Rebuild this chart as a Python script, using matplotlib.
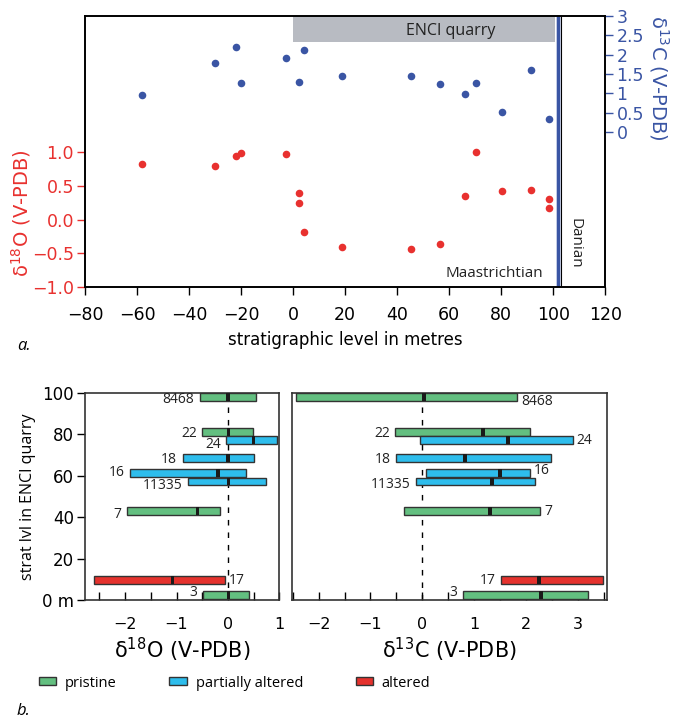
import matplotlib

matplotlib.use("Agg")
import matplotlib.pyplot as plt
from matplotlib.patches import Patch

# ---- panel a: isotope values vs stratigraphic level -------------------------
c13_level = [-58, -29.9, -21.9, -19.9, -2.8, 4.1, 2.2, 18.6, 45.3, 56.3, 66.2,
             70.3, 80.3, 91.3, 98.2]
c13_value = [0.96, 1.79, 2.21, 1.27, 1.92, 2.11, 1.30, 1.45, 1.44, 1.24, 0.99,
             1.28, 0.53, 1.60, 0.33]
o18_level = [-58, -29.9, -21.9, -19.9, -2.8, 2.2, 2.2, 4.1, 18.6, 45.3, 56.3,
             66.2, 70.3, 80.3, 91.3, 98.2, 98.2]
o18_value = [0.82, 0.79, 0.94, 0.99, 0.97, 0.40, 0.25, -0.18, -0.41, -0.44,
             -0.37, 0.35, 1.01, 0.43, 0.44, 0.31, 0.17]
QUARRY_END = 100.5
KT_BOUNDARY = 102.0

# ---- panel b: per-sample ranges ---------------------------------------------
sample_id = ["8468", "22", "24", "18", "16", "11335", "7", "17", "3"]
sample_lvl = [97.9, 80.9, 77.0, 68.5, 61.3, 57.2, 42.8, 9.5, 2.4]
status = ["pristine", "pristine", "partial", "partial", "partial", "partial",
          "pristine", "altered", "pristine"]
o_lo = [-0.55, -0.50, -0.03, -0.88, -1.91, -0.77, -1.97, -2.61, -0.48]
o_hi = [0.55, 0.48, 0.95, 0.50, 0.35, 0.74, -0.16, -0.06, 0.41]
o_mid = [0.0, 0.01, 0.50, 0.0, -0.19, 0.01, -0.59, -1.08, 0.01]
c_lo = [-2.44, -0.52, -0.05, -0.51, 0.08, -0.12, -0.36, 1.52, 0.78]
c_hi = [1.82, 2.08, 2.90, 2.49, 2.08, 2.17, 2.28, 3.48, 3.20]
c_mid = [0.03, 1.18, 1.66, 0.82, 1.50, 1.34, 1.31, 2.25, 2.29]

RED = "#e8312f"
BLUE = "#3a55a4"
STATUS_COLOR = {"pristine": "#63bf80", "partial": "#2ebdec", "altered": "#e5322d"}
STATUS_LABEL = {"pristine": "pristine", "partial": "partially altered",
                "altered": "altered"}
NARROW = "Open Sans"

# label placement per panel: (side, vertical offset in points)
o_label = [("l", -2), ("l", -1), ("l", -3), ("l", -1), ("l", 0), ("l", -3),
           ("l", -2), ("r", 0), ("l", 2)]
c_label = [("r", -3), ("l", -1), ("r", 0), ("l", -1), ("r", 2), ("l", -2),
           ("r", 0), ("l", 0), ("l", 2)]

fig = plt.figure(figsize=(6.78, 7.21), dpi=100)

# ---- a ----------------------------------------------------------------------
ax = fig.add_axes([0.1254, 0.6024, 0.7674, 0.3754])
ax2 = ax.twinx()
ax.set_xlim(-80, 120)
ax.set_ylim(-1.0, 3.03)
ax2.set_ylim(-4.0, 3.0)

ax.axvspan(0, QUARRY_END, ymin=0.905, ymax=1.0, color="#b8bbc2", lw=0, zorder=0)
ax.axvline(KT_BOUNDARY, color="#c2cce6", lw=3.5, zorder=1)
ax.axvline(KT_BOUNDARY, color=BLUE, lw=2.2, zorder=2)
ax.axvline(KT_BOUNDARY + 0.9, color="black", lw=0.8, zorder=2)

ax.scatter(o18_level, o18_value, s=30, color=RED, lw=0, zorder=3)
ax2.scatter(c13_level, c13_value, s=30, color=BLUE, lw=0, zorder=3)

ax.text(60.5, 0.945, "ENCI quarry", transform=ax.get_xaxis_transform(),
        ha="center", va="center", fontsize=11.5, family=NARROW, color="#222222")
ax.text(96, 0.05, "Maastrichtian", transform=ax.get_xaxis_transform(),
        ha="right", va="center", fontsize=11, family=NARROW, color="#222222")
ax.text(108.5, 0.16, "Danian", transform=ax.get_xaxis_transform(),
        ha="center", va="center", rotation=-90, fontsize=11, family=NARROW,
        color="#222222")

ax.set_xticks(range(-80, 121, 20))
ax.set_xticklabels([str(v).replace("-", "\u2212") for v in range(-80, 121, 20)])
ax.set_yticks([-1.0, -0.5, 0.0, 0.5, 1.0])
ax.set_yticklabels(["\u22121.0", "\u22120.5", "0.0", "0.5", "1.0"])
ax2.set_yticks([0, 0.5, 1, 1.5, 2, 2.5, 3])
ax2.set_yticklabels(["0", "0.5", "1", "1.5", "2", "2.5", "3"])
ax.tick_params(axis="x", labelsize=12.5, length=6, width=1, pad=8)
ax.tick_params(axis="y", labelsize=12.5, colors=RED, length=6, width=1, pad=2)
ax2.tick_params(axis="y", labelsize=12.5, colors=BLUE, length=6, width=1, pad=2)
ax.set_xlabel("stratigraphic level in metres", fontsize=12, labelpad=5)
ax.set_ylabel("\u03b4$^{18}$O (V-PDB)", fontsize=14, color=RED)
ax.yaxis.set_label_coords(-0.1, 0.27)
ax2.set_ylabel("\u03b4$^{13}$C (V-PDB)", fontsize=14, color=BLUE, rotation=-90,
               rotation_mode="anchor", ha="center", va="center")
ax2.yaxis.set_label_coords(1.103, 0.77)
for a in (ax, ax2):
    for sp in a.spines.values():
        sp.set_linewidth(1.2)
fig.text(0.025, 0.515, "a.", fontsize=12, style="italic", family=NARROW)

# ---- b ----------------------------------------------------------------------
BAR_H = 3.8
axo = fig.add_axes([0.1254, 0.1678, 0.2866, 0.2875])
axc = fig.add_axes([0.4302, 0.1678, 0.4655, 0.2875])


def draw_ranges(a, lo, hi, mid, labels, mid_w):
    for i, sid in enumerate(sample_id):
        col = STATUS_COLOR[status[i]]
        a.barh(sample_lvl[i], hi[i] - lo[i], left=lo[i], height=BAR_H,
               color=col, edgecolor="#333333", lw=1.0, zorder=3)
        a.barh(sample_lvl[i], mid_w, left=mid[i] - mid_w / 2, height=BAR_H,
               color="#1a1a1a", lw=0, zorder=4)
        side, dy = labels[i]
        if side == "l":
            a.annotate(sid, (lo[i], sample_lvl[i]), xytext=(-4, dy),
                       textcoords="offset points", ha="right", va="center",
                       fontsize=10, family=NARROW, color="#222222")
        else:
            a.annotate(sid, (hi[i], sample_lvl[i]), xytext=(3, dy),
                       textcoords="offset points", ha="left", va="center",
                       fontsize=10, family=NARROW, color="#222222")
    a.axvline(0, color="black", lw=1.0, ls=(0, (4, 5)), zorder=1)
    a.set_ylim(0, 100)
    a.tick_params(axis="x", direction="in", length=6, width=1, labelsize=11.5,
                  pad=12)
    for sp in a.spines.values():
        sp.set_linewidth(1.2)
        sp.set_color("#333333")


draw_ranges(axo, o_lo, o_hi, o_mid, o_label, 0.07)
draw_ranges(axc, c_lo, c_hi, c_mid, c_label, 0.08)

axo.set_xlim(-2.78, 1.0)
axo.set_xticks([-2.5, -2, -1.5, -1, -0.5, 0, 0.5, 1])
axo.set_xticklabels(["", "\u22122", "", "\u22121", "", "0", "", "1"])
axo.set_yticks(range(0, 101, 20))
axo.set_yticklabels(["0 m", "20", "40", "60", "80", "100"])
axo.tick_params(axis="y", length=6, width=1, labelsize=12, pad=2)
axo.set_ylabel("strat lvl in ENCI quarry", fontsize=11.5, family=NARROW,
               labelpad=4)
axo.set_xlabel("\u03b4$^{18}$O (V-PDB)", fontsize=15, labelpad=3)

axc.set_xlim(-2.52, 3.57)
axc.set_xticks([-2.5, -2, -1.5, -1, -0.5, 0, 0.5, 1, 1.5, 2, 2.5, 3, 3.5])
axc.set_xticklabels(["", "\u22122", "", "\u22121", "", "0", "", "1", "", "2",
                     "", "3", ""])
axc.set_yticks([])
axc.set_xlabel("\u03b4$^{13}$C (V-PDB)", fontsize=15, labelpad=3)

handles = [Patch(facecolor=STATUS_COLOR[k], edgecolor="#333333", lw=1.0,
                 label=STATUS_LABEL[k]) for k in ("pristine", "partial", "altered")]
fig.legend(handles=handles, loc="center left", bbox_to_anchor=(0.038, 0.0527),
           ncol=3, frameon=False, handlelength=1.2, handleheight=0.45,
           handletextpad=0.6, columnspacing=3.6,
           prop={"family": NARROW, "size": 10.5})
fig.text(0.025, 0.008, "b.", fontsize=12, style="italic", family=NARROW)

fig.savefig("out.png", dpi=100)
